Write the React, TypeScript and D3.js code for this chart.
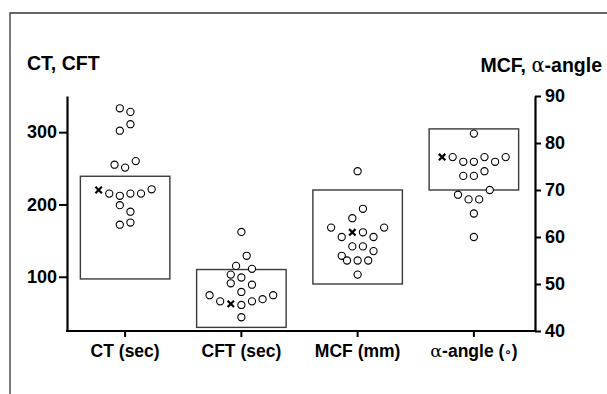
import React, { useEffect, useRef } from 'react';
import * as d3 from 'd3';

const categories = ['CT (sec)', 'CFT (sec)', 'MCF (mm)', 'α-angle (∘)'];
// which y axis each category is read against
const axisOf = ['left', 'left', 'right', 'right'];

// values listed top to bottom, left to right as they sit in the swarm
const ctValues = [333, 328, 302, 311, 255, 251, 260, 220, 215, 212, 215, 215, 221, 199, 190, 172, 175];
const cftValues = [162, 115, 129, 103, 99, 111, 91, 79, 89, 74.5, 66, 62.5, 61, 66, 69, 74.5, 44];
const mcfValues = [74, 64, 66, 62, 60, 61, 61, 60, 62, 56, 58, 58, 57, 55, 55, 55, 52];
const alphaValues = [82, 77, 77, 76, 76, 77, 76, 77, 73, 73, 74, 69, 68, 68, 70, 65, 60];
const patientValues = [220, 62.5, 61, 77];

// reference ranges (the boxes)
const refLow = [97, 30, 50, 70];
const refHigh = [239, 110, 70, 83];

const leftTicks = [100, 200, 300];
const rightTicks = [40, 50, 60, 70, 80, 90];
const leftDomain = [25, 350];
const rightDomain = [40, 90];
const leftTitle = 'CT, CFT';
const rightTitle = ['MCF, ', 'α', '-angle'];

const FONT = '"Liberation Sans", Arial, sans-serif';

type Pt = { v: number; i: number; y: number; dx: number };

// simple row swarm: points whose y fall within one step share a row, centred on the category
function swarm(values: number[], y: (v: number) => number, step: number): Pt[] {
  const pts: Pt[] = values.map((v, i) => ({ v, i, y: y(v), dx: 0 }));
  const sorted = [...pts].sort((a, b) => a.y - b.y || a.i - b.i);
  const rows: Pt[][] = [];
  let row: Pt[] = [];
  for (const p of sorted) {
    if (row.length && p.y - row[0].y >= step) {
      rows.push(row);
      row = [];
    }
    row.push(p);
  }
  if (row.length) rows.push(row);
  rows.forEach(r => {
    r.sort((a, b) => a.i - b.i);
    r.forEach((p, k) => (p.dx = (k - (r.length - 1) / 2) * step));
  });
  return pts;
}

function writeLabel(sel: d3.Selection<any, any, any, any>, label: string) {
  sel.text(null);
  label.split(/([α∘])/).filter(s => s.length).forEach(part => {
    const greek = part === 'α' || part === '∘';
    sel.append('tspan')
      .attr('font-family', greek ? '"DejaVu Serif", serif' : FONT)
      .attr('font-weight', greek ? 'normal' : 'bold')
      .attr('font-size', part === '∘' ? 15 : null)
      .text(part);
  });
}

export default function App() {
  const ref = useRef<SVGSVGElement>(null);

  useEffect(() => {
    const svg = d3.select(ref.current);
    svg.selectAll('*').remove();

    const top = 96, bottom = 331, left = 67, right = 535;

    const x = d3.scaleBand().domain(categories).range([left, 532]).padding(0);
    const yL = d3.scaleLinear().domain(leftDomain).range([bottom, top]);
    const yR = d3.scaleLinear().domain(rightDomain).range([bottom, top]);

    // outer frame
    svg.append('path')
      .attr('d', 'M10,394 V13 H607')
      .attr('fill', 'none')
      .attr('stroke', '#333')
      .attr('stroke-width', 1.3);

    const series = [ctValues, cftValues, mcfValues, alphaValues];
    const boxW = x.bandwidth() * 0.77;
    const step = 10.6;

    series.forEach((vals, ci) => {
      const y = axisOf[ci] === 'left' ? yL : yR;
      const cx = (x(categories[ci]) as number) + x.bandwidth() / 2;
      const g = svg.append('g');

      g.append('rect')
        .attr('x', cx - boxW / 2)
        .attr('y', y(refHigh[ci]))
        .attr('width', boxW)
        .attr('height', y(refLow[ci]) - y(refHigh[ci]))
        .attr('fill', 'none')
        .attr('stroke', '#3a3a3a')
        .attr('stroke-width', 1.4);

      const pts = swarm(vals, y, step);
      const pIdx = vals.indexOf(patientValues[ci]);

      g.selectAll('circle')
        .data(pts.filter(p => p.i !== pIdx))
        .enter()
        .append('circle')
        .attr('cx', p => cx + p.dx)
        .attr('cy', p => p.y)
        .attr('r', 3.6)
        .attr('fill', '#fff')
        .attr('stroke', '#000')
        .attr('stroke-width', 1.1);

      const pp = pts[pIdx];
      const px = cx + pp.dx, py = pp.y, s = 3.2;
      g.append('path')
        .attr('d', `M${px - s},${py - s}L${px + s},${py + s}M${px - s},${py + s}L${px + s},${py - s}`)
        .attr('stroke', '#000')
        .attr('stroke-width', 2.2);
    });

    const styleAxis = (g: d3.Selection<SVGGElement, unknown, null, undefined>) => {
      g.select('.domain').attr('stroke', '#000').attr('stroke-width', 2.2);
      g.selectAll('.tick line').attr('stroke', '#000').attr('stroke-width', 2);
      g.selectAll('.tick text')
        .attr('fill', '#000')
        .attr('font-family', FONT)
        .attr('font-weight', 'bold')
        .attr('font-size', 18);
    };

    svg.append('g')
      .attr('transform', `translate(${left},0)`)
      .call(d3.axisLeft(yL).tickValues(leftTicks).tickSize(8).tickPadding(2).tickSizeOuter(0))
      .call(styleAxis);

    svg.append('g')
      .attr('transform', `translate(${right},0)`)
      .call(d3.axisRight(yR).tickValues(rightTicks).tickSize(6).tickPadding(4).tickSizeOuter(0))
      .call(styleAxis);

    const xg = svg.append('g')
      .attr('transform', `translate(0,${bottom})`)
      .call(d3.axisBottom(x).tickSize(6).tickPadding(8).tickSizeOuter(0))
      .call(styleAxis);
    xg.select('.domain').remove();
    xg.selectAll('.tick text').attr('font-size', 17.5).each(function (d) {
      writeLabel(d3.select(this), d as string);
    });
    xg.append('line')
      .attr('x1', left - 1).attr('x2', right + 1)
      .attr('stroke', '#000').attr('stroke-width', 2.2);

    // axis titles
    svg.append('text')
      .attr('x', 27).attr('y', 70)
      .attr('font-family', FONT).attr('font-weight', 'bold').attr('font-size', 19.5)
      .text(leftTitle);

    const rt = svg.append('text')
      .attr('x', 602).attr('y', 72)
      .attr('text-anchor', 'end')
      .attr('font-size', 19.5);
    writeLabel(rt, rightTitle.join(''));
  }, []);

  return (
    <svg ref={ref} width={607} height={394}
      style={{ position: 'absolute', left: 0, top: 0, background: '#fff' }} />
  );
}
